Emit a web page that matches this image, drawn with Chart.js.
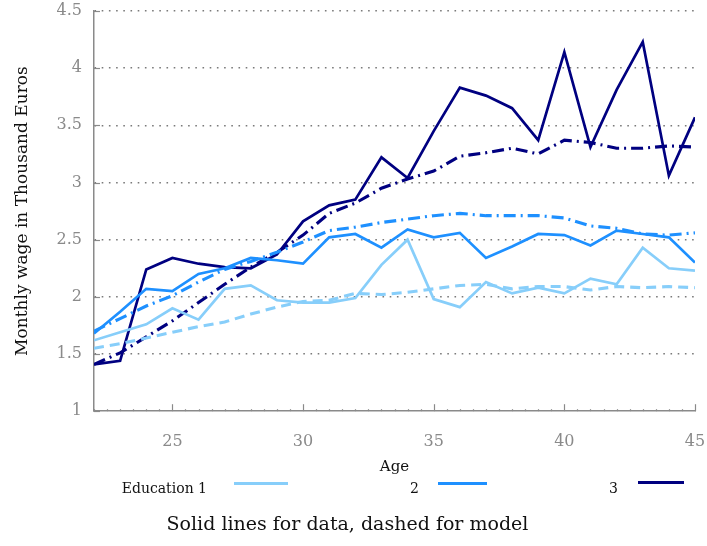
<!DOCTYPE html>
<html>
<head>
<meta charset="utf-8">
<script src="https://cdn.jsdelivr.net/npm/chart.js@4/dist/chart.umd.min.js"></script>
<style>
  html, body { margin: 0; padding: 0; background: #ffffff; }
  #wrap { width: 707px; height: 546px; position: relative; }
</style>
</head>
<body>
<div id="wrap"><canvas id="wage"></canvas></div>
<script>
// Age grid
const ages = [22, 23, 24, 25, 26, 27, 28, 29, 30, 31, 32, 33, 34, 35, 36, 37, 38, 39, 40, 41, 42, 43, 44, 45];

// Monthly wage (thousand euros): observed data and model fit per education level
const edu1Data  = [1.62, 1.69, 1.76, 1.90, 1.80, 2.07, 2.10, 1.97, 1.95, 1.95, 1.99, 2.28, 2.50, 1.98, 1.91, 2.13, 2.03, 2.08, 2.03, 2.16, 2.11, 2.43, 2.25, 2.23];
const edu1Model = [1.55, 1.59, 1.64, 1.69, 1.74, 1.78, 1.85, 1.91, 1.96, 1.97, 2.03, 2.02, 2.04, 2.07, 2.10, 2.11, 2.07, 2.09, 2.09, 2.06, 2.09, 2.08, 2.09, 2.08];
const edu2Data  = [1.68, 1.87, 2.07, 2.05, 2.20, 2.25, 2.34, 2.32, 2.29, 2.52, 2.55, 2.43, 2.59, 2.52, 2.56, 2.34, 2.44, 2.55, 2.54, 2.45, 2.58, 2.55, 2.52, 2.30];
const edu2Model = [1.70, 1.81, 1.92, 2.01, 2.13, 2.24, 2.31, 2.39, 2.48, 2.58, 2.61, 2.65, 2.68, 2.71, 2.73, 2.71, 2.71, 2.71, 2.69, 2.62, 2.60, 2.55, 2.54, 2.56];
const edu3Data  = [1.41, 1.44, 2.24, 2.34, 2.29, 2.26, 2.25, 2.37, 2.66, 2.80, 2.85, 3.22, 3.04, 3.45, 3.83, 3.76, 3.65, 3.37, 4.14, 3.31, 3.81, 4.23, 3.06, 3.57];
const edu3Model = [1.41, 1.51, 1.65, 1.79, 1.95, 2.11, 2.26, 2.39, 2.54, 2.73, 2.82, 2.95, 3.03, 3.10, 3.23, 3.26, 3.30, 3.25, 3.37, 3.35, 3.30, 3.30, 3.32, 3.31];

// Axis tick values and texts
const xTickValues = [25, 30, 35, 40, 45];
const yTickValues = [1, 1.5, 2, 2.5, 3, 3.5, 4, 4.5];
const yTickLabels = ['1', '1.5', '2', '2.5', '3', '3.5', '4', '4.5'];

// Legend texts
const legendLabels = ['Education 1', '2', '3'];

const colors = ['#87cefa', '#1e90ff', '#000080'];
const serif = "'DejaVu Serif', 'Liberation Serif', serif";
const grey = '#8a8a8a';

const points = vals => ages.map((a, i) => ({ x: a, y: vals[i] }));

function dataSet(label, vals, color) {
  return { label, data: points(vals), borderColor: color, borderWidth: 2.7,
           pointRadius: 0, tension: 0, fill: false };
}
function modelSet(label, vals, color, dash) {
  return { label, data: points(vals), borderColor: color, borderWidth: 3.1,
           borderDash: dash, pointRadius: 0, tension: 0, fill: false };
}

// Inward ticks on both axes plus the text legend under the axis title
const axisDecor = {
  id: 'axisDecor',
  afterDraw(chart) {
    const { ctx, scales: { x, y } } = chart;
    const bottom = y.bottom, left = x.left;
    ctx.save();
    ctx.strokeStyle = grey;
    ctx.lineWidth = 1.2;
    // x: major ticks every 5 years, minor every half year
    for (let v = x.min; v <= x.max + 1e-9; v += 0.5) {
      const px = Math.round(x.getPixelForValue(v)) + 0.5;
      const len = xTickValues.includes(v) ? 7 : 2;
      ctx.beginPath(); ctx.moveTo(px, bottom); ctx.lineTo(px, bottom - len); ctx.stroke();
    }
    // y: short inward ticks at each labelled value
    yTickValues.forEach(v => {
      const py = Math.round(y.getPixelForValue(v)) + 0.5;
      ctx.beginPath(); ctx.moveTo(left, py); ctx.lineTo(left + 6, py); ctx.stroke();
    });

    // legend: text then a solid line sample
    const items = [
      { textRight: 207, lineFrom: 234, lineTo: 288, lineY: 483.5 },
      { textRight: 419, lineFrom: 438, lineTo: 487, lineY: 483.5 },
      { textRight: 618, lineFrom: 638, lineTo: 684, lineY: 482.5 }
    ];
    ctx.font = "14px " + serif;
    ctx.fillStyle = '#111';
    ctx.textAlign = 'right';
    ctx.textBaseline = 'middle';
    items.forEach((it, i) => {
      ctx.fillText(legendLabels[i], it.textRight, 489);
      ctx.strokeStyle = colors[i];
      ctx.lineWidth = 3;
      ctx.beginPath(); ctx.moveTo(it.lineFrom, it.lineY); ctx.lineTo(it.lineTo, it.lineY); ctx.stroke();
    });
    ctx.restore();
  }
};

new Chart(document.getElementById('wage'), {
  type: 'line',
  data: {
    datasets: [
      dataSet('Education 1', edu1Data, colors[0]),
      modelSet('Education 1 model', edu1Model, colors[0], [10, 6]),
      dataSet('Education 2', edu2Data, colors[1]),
      modelSet('Education 2 model', edu2Model, colors[1], [12, 5, 2, 5]),
      dataSet('Education 3', edu3Data, colors[2]),
      modelSet('Education 3 model', edu3Model, colors[2], [12, 5, 2, 5])
    ]
  },
  options: {
    responsive: true,
    maintainAspectRatio: false,
    animation: false,
    layout: { padding: { top: 11, right: 12, left: 0, bottom: 0 } },
    plugins: {
      legend: { display: false },
      tooltip: { enabled: false },
      title: {
        display: true,
        position: 'bottom',
        text: 'Solid lines for data, dashed for model',
        color: '#111',
        font: { family: serif, size: 19, weight: 'normal', lineHeight: 1.2 },
        padding: { top: 0, bottom: 10 }
      }
    },
    scales: {
      x: {
        type: 'linear',
        min: 22,
        max: 45,
        afterFit(scale) {
          scale.height = 102;
          scale.paddingLeft = 0;
          scale.paddingRight = 0;
        },
        afterBuildTicks(scale) { scale.ticks = xTickValues.map(v => ({ value: v })); },
        grid: { drawOnChartArea: false, drawTicks: false },
        border: { display: true, color: grey, width: 1.5 },
        ticks: {
          color: grey,
          padding: 21,
          maxRotation: 0,
          font: { family: serif, size: 16 },
          callback: v => String(v)
        },
        title: {
          display: true,
          text: 'Age',
          color: '#111',
          font: { family: serif, size: 15, lineHeight: 1.2 },
          padding: { top: 0, bottom: 37 }
        }
      },
      y: {
        min: 1,
        max: 4.5,
        afterFit(scale) {
          scale.width = 94;
          scale.paddingTop = 0;
          scale.paddingBottom = 0;
        },
        afterBuildTicks(scale) { scale.ticks = yTickValues.map(v => ({ value: v })); },
        grid: {
          color: (c) => c.tick && c.tick.value === 1 ? 'rgba(0,0,0,0)' : '#7a7a7a',
          lineWidth: 1.6,
          drawTicks: false
        },
        border: { display: true, color: grey, width: 1.5, dash: [1.6, 5.6] },
        ticks: {
          color: grey,
          padding: 12,
          font: { family: serif, size: 16 },
          callback: (v) => yTickLabels[yTickValues.indexOf(v)]
        },
        title: {
          display: true,
          text: 'Monthly wage in Thousand Euros',
          color: '#111',
          font: { family: serif, size: 17, lineHeight: 1.2 },
          padding: { top: 12, bottom: 0 }
        }
      }
    }
  },
  plugins: [axisDecor]
});
</script>
</body>
</html>
